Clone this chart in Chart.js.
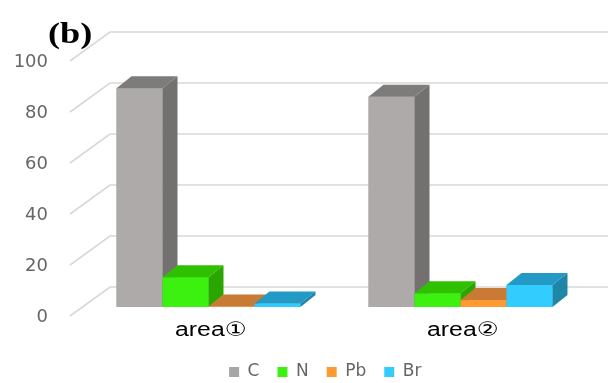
<!DOCTYPE html>
<html>
<head>
<meta charset="utf-8">
<script src="https://cdn.jsdelivr.net/npm/chart.js@4/dist/chart.umd.min.js"></script>
<style>
  html, body { margin: 0; padding: 0; background: #fff; }
  #wrap { width: 608px; height: 383px; }
</style>
</head>
<body>
<div id="wrap"><canvas id="c" width="608" height="383"></canvas></div>
<script>
// Element composition (%) for each measured area
const categories = ['area①', 'area②'];
const seriesNames = ['C', 'N', 'Pb', 'Br'];
const valuesC  = [85.8, 82.5];
const valuesN  = [11.7, 5.4];
const valuesPb = [0.2, 2.7];
const valuesBr = [1.4, 8.6];
const yTicks = [0, 20, 40, 60, 80, 100];

// Face colours for each series: front, top, side
const faces = {
  C:  { front: '#aeaaaa', top: '#7e7b7b', side: '#737070' },
  N:  { front: '#3cf010', top: '#2fc000', side: '#2aa600' },
  Pb: { front: '#ff9a33', top: '#c97a35', side: '#b0672a' },
  Br: { front: '#33ccff', top: '#2399c6', side: '#1f86a8' }
};

// Oblique projection offsets relative to the plane the bars stand in
const FRONT = { dx: -12.5, dy: 9 };   // axis-label plane
const BACK  = { dx: 27.5, dy: -20 };  // back wall
const DEPTH = { dx: 15, dy: -12 };    // bar depth

const wallPlugin = {
  id: 'wall',
  beforeDatasetsDraw(chart) {
    const { ctx, chartArea: a, scales: { y } } = chart;
    ctx.save();
    ctx.strokeStyle = '#d8d8d8';
    ctx.lineWidth = 1.6;
    yTicks.forEach(v => {
      const py = y.getPixelForValue(v);
      ctx.beginPath();
      ctx.moveTo(a.left + FRONT.dx, py + FRONT.dy);
      ctx.lineTo(a.left + BACK.dx, py + BACK.dy);
      ctx.lineTo(chart.width, py + BACK.dy);
      ctx.stroke();
    });
    ctx.restore();
  }
};

const boxPlugin = {
  id: 'boxes',
  afterDatasetsDraw(chart) {
    const { ctx } = chart;
    const metas = chart.data.datasets.map((d, i) => chart.getDatasetMeta(i));
    ctx.save();
    categories.forEach((_, ci) => {
      metas.forEach((meta, di) => {
        const bar = meta.data[ci];
        const f = faces[seriesNames[di]];
        const l = bar.x - bar.width / 2, r = bar.x + bar.width / 2;
        const t = bar.y, b = bar.base;
        // front
        ctx.fillStyle = f.front;
        ctx.fillRect(l, t, r - l, b - t);
        // top
        ctx.fillStyle = f.top;
        ctx.beginPath();
        ctx.moveTo(l, t);
        ctx.lineTo(r, t);
        ctx.lineTo(r + DEPTH.dx, t + DEPTH.dy);
        ctx.lineTo(l + DEPTH.dx, t + DEPTH.dy);
        ctx.closePath();
        ctx.fill();
        // right side
        ctx.fillStyle = f.side;
        ctx.beginPath();
        ctx.moveTo(r, t);
        ctx.lineTo(r + DEPTH.dx, t + DEPTH.dy);
        ctx.lineTo(r + DEPTH.dx, b + DEPTH.dy);
        ctx.lineTo(r, b);
        ctx.closePath();
        ctx.fill();
      });
    });
    ctx.restore();
  }
};

// Category names under each group, drawn slightly widened
const categoryLabels = {
  id: 'categoryLabels',
  afterDraw(chart) {
    const { ctx, scales: { x } } = chart;
    ctx.save();
    ctx.fillStyle = '#000';
    ctx.font = 'normal 400 20px Arial, "Liberation Sans", "DejaVu Sans", sans-serif';
    ctx.textBaseline = 'alphabetic';
    categories.forEach((name, i) => {
      const w = ctx.measureText(name).width * 1.24;
      const cx = x.getPixelForValue(i) + 2.5;
      ctx.save();
      ctx.translate(cx - w / 2, 335.5);
      ctx.scale(1.24, 1);
      ctx.fillText(name, 0, 0);
      ctx.restore();
    });
    ctx.restore();
  }
};

const panelLabel = {
  id: 'panelLabel',
  afterDraw(chart) {
    const { ctx } = chart;
    ctx.save();
    ctx.fillStyle = '#000';
    ctx.font = 'bold 29px "Liberation Serif", "DejaVu Serif", serif';
    ctx.textBaseline = 'alphabetic';
    ctx.translate(48, 43);
    ctx.scale(1.25, 1);
    ctx.fillText('(b)', 0, 0);
    ctx.restore();
  }
};

// Nudge the legend row so it sits under the plotted groups
const legendShift = {
  id: 'legendShift',
  afterLayout(chart) {
    const lg = chart.legend;
    if (!lg) return;
    lg.left += 32; lg.right += 32;
    lg.top += 1.5; lg.bottom += 1.5;
  }
};

const seriesValues = [valuesC, valuesN, valuesPb, valuesBr];

new Chart(document.getElementById('c'), {
  type: 'bar',
  data: {
    labels: categories,
    datasets: seriesNames.map((name, i) => ({
      label: name,
      data: seriesValues[i],
      backgroundColor: faces[name].front,
      borderWidth: 0,
      categoryPercentage: 0.73,
      barPercentage: 1.0,
      clip: false
    }))
  },
  options: {
    responsive: false,
    animation: false,
    events: [],
    layout: { padding: { top: 52, right: 21.5, left: 0, bottom: -6 } },
    scales: {
      x: {
        grid: { display: false, drawTicks: false },
        border: { display: false },
        ticks: { display: false },
        afterFit(scale) { scale.height = 37; }
      },
      y: {
        min: 0,
        max: 100,
        grid: { display: false, drawTicks: false },
        border: { display: false },
        afterBuildTicks(scale) { scale.ticks = yTicks.map(v => ({ value: v })); },
        ticks: {
          color: '#666',
          padding: 34.5,
          labelOffset: 10,
          font: { family: '"DejaVu Sans", sans-serif', size: 18 }
        },
        afterFit(scale) { scale.width = 82.5; }
      }
    },
    plugins: {
      tooltip: { enabled: false },
      legend: {
        position: 'bottom',
        labels: {
          boxWidth: 10,
          boxHeight: 10,
          padding: 18,
          color: '#666',
          font: { family: '"DejaVu Sans", sans-serif', size: 17 },
          generateLabels(chart) {
            return chart.data.datasets.map((d, i) => ({
              text: d.label,
              fillStyle: i === 0 ? '#a6a6a6' : d.backgroundColor,
              strokeStyle: 'rgba(0,0,0,0)',
              lineWidth: 0,
              fontColor: '#666',
              datasetIndex: i
            }));
          }
        }
      }
    }
  },
  plugins: [wallPlugin, boxPlugin, categoryLabels, panelLabel, legendShift]
});
</script>
</body>
</html>
